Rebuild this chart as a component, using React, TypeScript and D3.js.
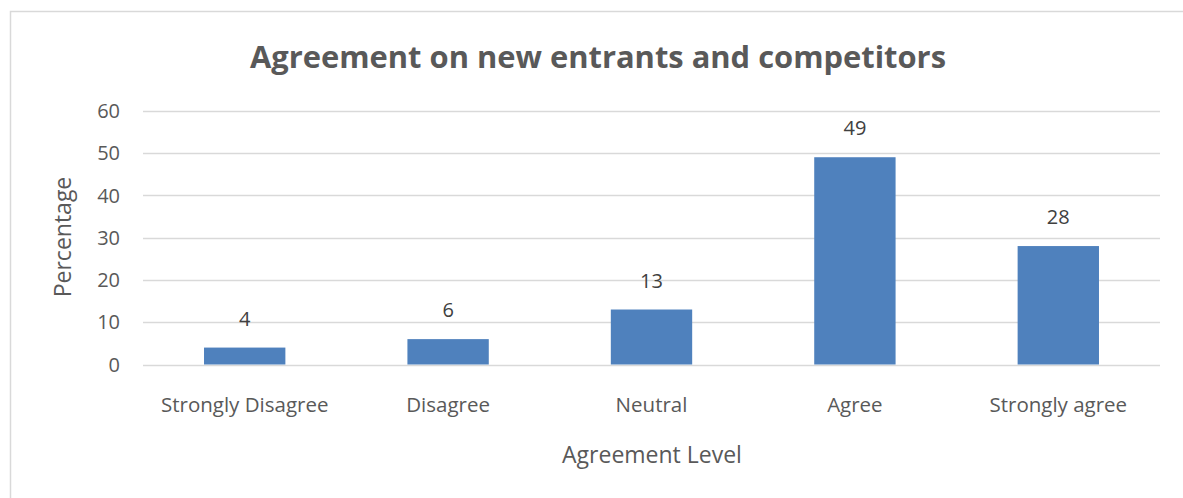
import React from "react";
import * as d3 from "d3";

const categories = ["Strongly Disagree", "Disagree", "Neutral", "Agree", "Strongly agree"];
const values = [4, 6, 13, 49, 28];
const yTicks = [0, 10, 20, 30, 40, 50, 60];
const title = "Agreement on new entrants and competitors";
const xTitle = "Agreement Level";
const yTitle = "Percentage";

export default function App() {
  const W = 1183;
  const H = 498;
  const plot = { left: 143, right: 1160, top: 110.7, bottom: 364.5 };
  const x = d3.scaleBand<string>().domain(categories).range([plot.left, plot.right]).paddingInner(0.6).paddingOuter(0.3);
  const y = d3.scaleLinear().domain([0, 60]).range([plot.bottom, plot.top]);
  const font = "'Open Sans', Lato, sans-serif";
  const grey = "#595959";
  return (
    <svg width={W} height={H} style={{ position: "absolute", left: 0, top: 0, background: "#fff" }}>
      <rect x={10.5} y={11.5} width={1300} height={600} fill="#fff" stroke="#d9d9d9" strokeWidth={1.5} />
      <text x={598} y={68} textAnchor="middle" fontFamily={font} fontWeight={700} fontSize={31} fill={grey}
        textLength={696} lengthAdjust="spacingAndGlyphs">{title}</text>
      {yTicks.map((t) => (
        <g key={t}>
          <line x1={plot.left} x2={plot.right} y1={Math.round(y(t)) + 0.5} y2={Math.round(y(t)) + 0.5} stroke="#d9d9d9" strokeWidth={1.3} />
          <text x={120} y={y(t)} dy="0.36em" textAnchor="end" fontFamily={font} fontSize={20} fill={grey}>{t}</text>
        </g>
      ))}
      {categories.map((c, i) => (
        <g key={c}>
          <rect x={x(c)} y={y(values[i])} width={x.bandwidth()} height={y(0) - y(values[i])} fill="#4F81BD" />
          <text x={(x(c) as number) + x.bandwidth() / 2} y={y(values[i]) - 22} textAnchor="middle" fontFamily={font} fontSize={20} fill="#404040">{values[i]}</text>
          <text x={(x(c) as number) + x.bandwidth() / 2} y={412} textAnchor="middle" fontFamily={font} fontSize={20.5} fill={grey}>{c}</text>
        </g>
      ))}
      <text x={652} y={463} textAnchor="middle" fontFamily={font} fontSize={23} fill={grey}>{xTitle}</text>
      <text transform={`translate(71,237) rotate(-90)`} textAnchor="middle" fontFamily={font} fontSize={23} fill={grey}>{yTitle}</text>
    </svg>
  );
}
